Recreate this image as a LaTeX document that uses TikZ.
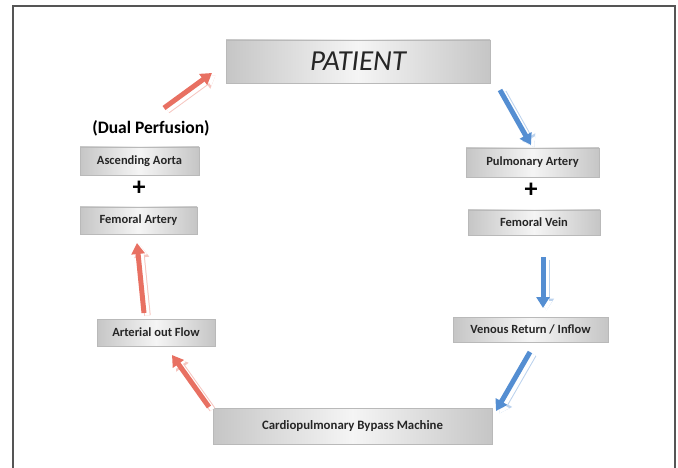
\documentclass[tikz,border=0pt]{standalone}
\usepackage{fontspec}
\setmainfont{Carlito}
\usetikzlibrary{arrows.meta,shadows}
\definecolor{arrred}{RGB}{232,112,98}
\definecolor{arrblue}{RGB}{84,142,210}
\definecolor{framegray}{RGB}{85,85,85}
\tikzset{
  gbox/.style={draw=gray!55, line width=0.6pt, left color=gray!45, right color=gray!45, middle color=gray!8,
    drop shadow={shadow xshift=1.2pt, shadow yshift=-1.2pt, opacity=0.35},
    inner sep=0pt, font=\bfseries\fontsize{12.5}{14}\selectfont, text=black!85},
  plus/.style={font=\bfseries\fontsize{26}{26}\selectfont, inner sep=0pt},
  fatarrow/.style={line width=5pt, -{Triangle[width=13pt,length=11pt]}},
  ghostout/.style={line width=6.5pt, draw=#1!40, -{Triangle[width=14.5pt,length=12pt]}},
  ghostin/.style={line width=4.5pt, draw=white, -{Triangle[width=11pt,length=9.5pt]}},
}
\begin{document}
\begin{tikzpicture}[x=1pt,y=-1pt]
\useasboundingbox (0,0) rectangle (678,468);
\draw[framegray, line width=1.3pt] (13,468) -- (13,6) -- (675,6) -- (675,468);

% boxes
\node[gbox, minimum width=264pt, minimum height=43pt, font=\itshape\fontsize{29}{30}\selectfont] (patient) at (358,61.5) {PATIENT};
\node[font=\bfseries\fontsize{17.5}{19}\selectfont, inner sep=0pt] (dual) at (151,128) {(Dual Perfusion)};
\node[gbox, minimum width=119pt, minimum height=28pt] (aorta) at (139.5,161) {Ascending Aorta};
\node[plus] (plusL) at (139,188) {+};
\node[gbox, minimum width=117pt, minimum height=27pt] (fart) at (138.5,220.5) {Femoral Artery};
\node[gbox, minimum width=133pt, minimum height=29pt] (pulm) at (532.5,162.5) {Pulmonary Artery};
\node[plus] (plusR) at (531,190) {+};
\node[gbox, minimum width=132pt, minimum height=25pt] (fvein) at (534,222.5) {Femoral Vein};
\node[gbox, minimum width=118pt, minimum height=27pt] (aflow) at (156,332.5) {Arterial out Flow};
\node[gbox, minimum width=155pt, minimum height=25pt] (vret) at (530.5,329.5) {Venous Return / Inflow};
\node[gbox, minimum width=279pt, minimum height=36pt, font=\bfseries\fontsize{12.8}{14}\selectfont] (cpb) at (352.5,426) {Cardiopulmonary Bypass Machine};

% arrow end points
\coordinate (r1s) at (164,108); \coordinate (r1e) at (212,73);
\coordinate (b1s) at (500,90);  \coordinate (b1e) at (531,145);
\coordinate (b2s) at (543,257); \coordinate (b2e) at (543,308);
\coordinate (b3s) at (530,352); \coordinate (b3e) at (496,411);
\coordinate (r2s) at (209,407); \coordinate (r2e) at (172,355);
\coordinate (r3s) at (144,313); \coordinate (r3e) at (137,243);

% ghosts (light reflected outline, offset)
\foreach \s/\e/\c in {r1s/r1e/arrred, r2s/r2e/arrred, r3s/r3e/arrred, b1s/b1e/arrblue, b2s/b2e/arrblue, b3s/b3e/arrblue}{
  \draw[ghostout=\c] ([shift={(3.5,2.5)}]\s) -- ([shift={(3.5,2.5)}]\e);
  \draw[ghostin] ([shift={(3.5,2.5)}]\s) -- ([shift={(3.5,2.5)}]\e);
}
% arrows
\draw[fatarrow, arrred] (r1s) -- (r1e);
\draw[fatarrow, arrred] (r2s) -- (r2e);
\draw[fatarrow, arrred] (r3s) -- (r3e);
\draw[fatarrow, arrblue] (b1s) -- (b1e);
\draw[fatarrow, arrblue] (b2s) -- (b2e);
\draw[fatarrow, arrblue] (b3s) -- (b3e);
\end{tikzpicture}
\end{document}
